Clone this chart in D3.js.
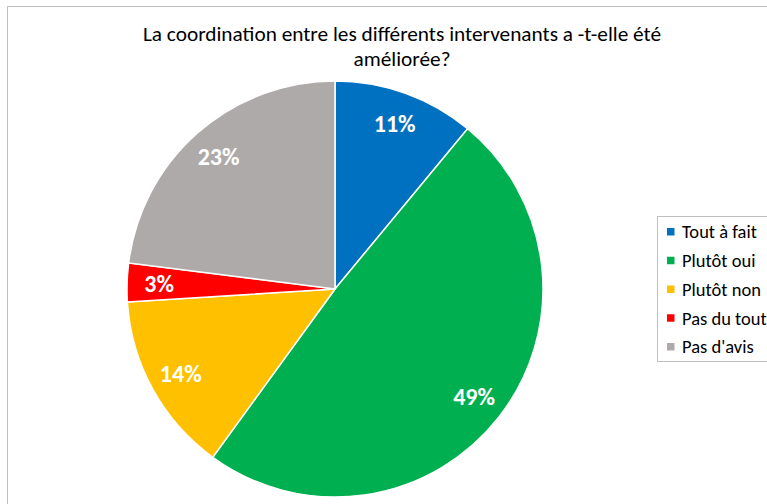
<!DOCTYPE html>
<html>
<head>
<meta charset="utf-8">
<script src="https://cdn.jsdelivr.net/npm/d3@7"></script>
<style>
  body { margin: 0; background: #fff; }
  svg { display: block; }
</style>
</head>
<body>
<div id="chart"></div>
<script>
const categories = ['Tout à fait', 'Plutôt oui', 'Plutôt non', 'Pas du tout', "Pas d'avis"];
const values = [11, 49, 14, 3, 23];
const colors = ['#0070C0', '#00B050', '#FFC000', '#FF0000', '#AEAAAA'];
const titleLines = ['La coordination entre les différents intervenants a -t-elle été', 'améliorée?'];

const width = 767;
const height = 504;
const font = "Carlito, 'Open Sans', sans-serif";

const svg = d3.select('#chart')
  .append('svg')
  .attr('width', width)
  .attr('height', height);

// chart area border
svg.append('path')
  .attr('d', `M7.5,${height} V6.5 H${width}`)
  .attr('fill', 'none')
  .attr('stroke', '#BFBFBF')
  .attr('stroke-width', 1);

svg.append('text')
  .attr('x', 402)
  .attr('y', 41)
  .attr('text-anchor', 'middle')
  .style('font-family', font)
  .style('font-size', '21.3px')
  .attr('fill', '#000')
  .selectAll('tspan')
  .data(titleLines)
  .enter()
  .append('tspan')
  .attr('x', 402)
  .attr('dy', (d, i) => (i === 0 ? 0 : 25))
  .text(d => d);

const radius = 208;
const data = categories.map((name, i) => ({ name, value: values[i], color: colors[i] }));

const pie = d3.pie()
  .sort(null)
  .value(d => d.value);

const arc = d3.arc()
  .innerRadius(0)
  .outerRadius(radius);

const labelArc = d3.arc()
  .innerRadius(176)
  .outerRadius(176);

const g = svg.append('g')
  .attr('transform', `translate(335, 289)`);

g.selectAll('path')
  .data(pie(data))
  .enter()
  .append('path')
  .attr('d', arc)
  .attr('fill', d => d.data.color)
  .attr('stroke', '#fff')
  .attr('stroke-width', 1.5);

g.selectAll('.label')
  .data(pie(data))
  .enter()
  .append('text')
  .attr('class', 'label')
  .attr('transform', d => `translate(${labelArc.centroid(d)})`)
  .attr('text-anchor', 'middle')
  .attr('dy', '0.35em')
  .style('font-family', font)
  .style('font-size', '24px')
  .style('font-weight', 'bold')
  .attr('fill', '#fff')
  .text(d => `${d.data.value}%`);

// legend
const legend = svg.append('g')
  .attr('transform', 'translate(657, 216)');

legend.append('rect')
  .attr('x', 0.5)
  .attr('y', 0.5)
  .attr('width', 120)
  .attr('height', 145)
  .attr('fill', '#fff')
  .attr('stroke', '#BFBFBF');

const items = legend.selectAll('.item')
  .data(data)
  .enter()
  .append('g')
  .attr('class', 'item')
  .attr('transform', (d, i) => `translate(0, ${16 + i * 28.75})`);

items.append('rect')
  .attr('x', 10)
  .attr('y', -4)
  .attr('width', 7.5)
  .attr('height', 7.5)
  .attr('fill', d => d.color);

items.append('text')
  .attr('x', 25)
  .attr('dy', '0.35em')
  .style('font-family', font)
  .style('font-size', '18.5px')
  .attr('fill', '#000')
  .text(d => d.name);
</script>
</body>
</html>
